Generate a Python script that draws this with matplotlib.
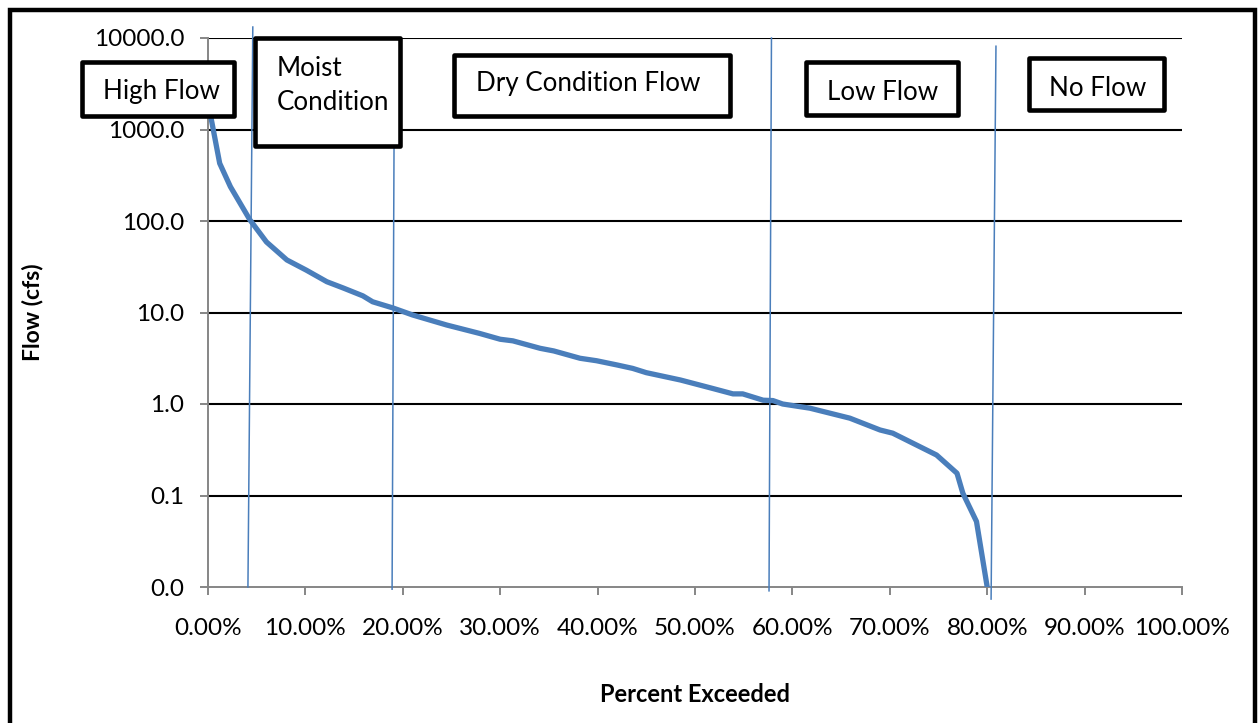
import matplotlib
matplotlib.use("Agg")
import matplotlib.pyplot as plt
from matplotlib.patches import Rectangle
from matplotlib.lines import Line2D
from matplotlib.ticker import FixedLocator, FixedFormatter, FuncFormatter, NullLocator
import matplotlib.transforms as mtransforms

plt.rcParams['font.family'] = ['Lato', 'DejaVu Sans']

# ---- data ----
percent_exceeded = [0, 1.2, 2.3, 4.3, 6.0, 8.1, 10.1, 12.2, 13.9, 15.9, 16.9, 19.0,
                    21.0, 24.5, 27.9, 30.0, 31.3, 34.1, 35.5, 38.2, 39.9, 42.0, 43.6,
                    45.0, 48.5, 51.8, 53.9, 54.9, 57.0, 58.0, 59.0, 61.8, 65.9, 69.0,
                    70.3, 74.8, 76.9, 77.5, 78.9, 80.0]
flow_cfs = [2000, 427, 237, 103, 59, 37.5, 29, 21.7, 18.5, 15.2, 13.1, 11.2,
            9.4, 7.3, 5.9, 5.1, 4.9, 4.06, 3.8, 3.16, 2.97, 2.67, 2.45,
            2.2, 1.83, 1.48, 1.29, 1.29, 1.1, 1.09, 1.0, 0.90, 0.70, 0.52,
            0.48, 0.277, 0.175, 0.106, 0.052, 0.01]

y_ticks = [0.01, 0.1, 1, 10, 100, 1000, 10000]
y_tick_labels = ["0.0", "0.1", "1.0", "10.0", "100.0", "1000.0", "10000.0"]
x_ticks = [0, 10, 20, 30, 40, 50, 60, 70, 80, 90, 100]

# zone divider lines: (x bottom %, x top %, y bottom axes-frac, y top axes-frac)
dividers = [(4.1, 4.6, 0.0, 1.02), (18.9, 19.1, -0.004, 0.805),
            (57.6, 57.85, -0.007, 1.0), (80.4, 80.9, -0.022, 0.985)]

# zone boxes: text lines, box px (x0, y0, x1, y1), text anchors px, ha
zones = [(["High Flow"], (82, 62, 234, 116), [(161, 91)], "center"),
         (["Moist", "Condition"], (255, 38, 400, 146), [(277, 68), (277, 103)], "left"),
         (["Dry Condition Flow"], (454, 55, 730, 116), [(588, 84)], "center"),
         (["Low Flow"], (806, 62, 958, 115), [(883, 92)], "center"),
         (["No Flow"], (1029, 58, 1164, 110), [(1098, 88)], "center")]

W, H = 1258, 723
fig = plt.figure(figsize=(W / 100, H / 100), dpi=100)
ax = fig.add_axes([208 / W, 1 - 587 / H, (1182 - 208) / W, (587 - 38) / H])

blue = "#4A7EBB"
ax.plot(percent_exceeded, flow_cfs, color=blue, lw=3.8, solid_joinstyle='round', zorder=3)

ax.set_yscale('log')
ax.set_ylim(0.01, 10000)
ax.set_xlim(0, 100)
ax.yaxis.set_major_locator(FixedLocator(y_ticks))
ax.yaxis.set_major_formatter(FixedFormatter(y_tick_labels))
ax.yaxis.set_minor_locator(NullLocator())
ax.xaxis.set_major_locator(FixedLocator(x_ticks))
ax.xaxis.set_major_formatter(FuncFormatter(lambda v, p: f"{v:.2f}%"))

for yv in y_ticks[1:]:
    ax.axhline(yv, color='black', lw=1.5, zorder=1)

for s in ['top', 'right']:
    ax.spines[s].set_visible(False)
for s in ['left', 'bottom']:
    ax.spines[s].set_color('#868686')
    ax.spines[s].set_linewidth(1.4)
ax.tick_params(axis='both', colors='#868686', length=6, width=1.4, direction='out',
               labelcolor='black', labelsize=17.5)
ax.tick_params(axis='y', pad=11)
ax.tick_params(axis='x', pad=16)

ax.set_ylabel("Flow (cfs)", fontsize=16.5, fontweight='bold')
ax.yaxis.set_label_coords(-0.1694, 0.5)
ax.set_xlabel("Percent Exceeded", fontsize=17, fontweight='bold')
ax.xaxis.set_label_coords(0.50, -0.175)

trans = mtransforms.blended_transform_factory(ax.transData, ax.transAxes)
for xb, xt, yb, yt in dividers:
    ax.add_line(Line2D([xb, xt], [yb, yt], transform=trans, color=blue, lw=1.1,
                       clip_on=False, zorder=4))

def px(x, y):
    return x / W, 1 - y / H

for lines, (x0, y0, x1, y1), anchors, ha in zones:
    fx0, fy1 = px(x0, y0)
    fx1, fy0 = px(x1, y1)
    fig.add_artist(Rectangle((fx0, fy0), fx1 - fx0, fy1 - fy0, transform=fig.transFigure,
                             facecolor='white', edgecolor='black', lw=3.3, zorder=10,
                             joinstyle='round'))
    for text, (tx, ty) in zip(lines, anchors):
        fxt, fyt = px(tx, ty)
        fig.text(fxt, fyt, text, ha=ha, va='center', fontsize=18.7, zorder=11)

# outer border
bx0, by1 = px(10, 10)
bx1, by0 = px(1255, 760)
fig.add_artist(Rectangle((bx0, by0), bx1 - bx0, by1 - by0, transform=fig.transFigure,
                         facecolor='none', edgecolor='black', lw=3.2, zorder=12))

fig.savefig("out.png", dpi=100)
